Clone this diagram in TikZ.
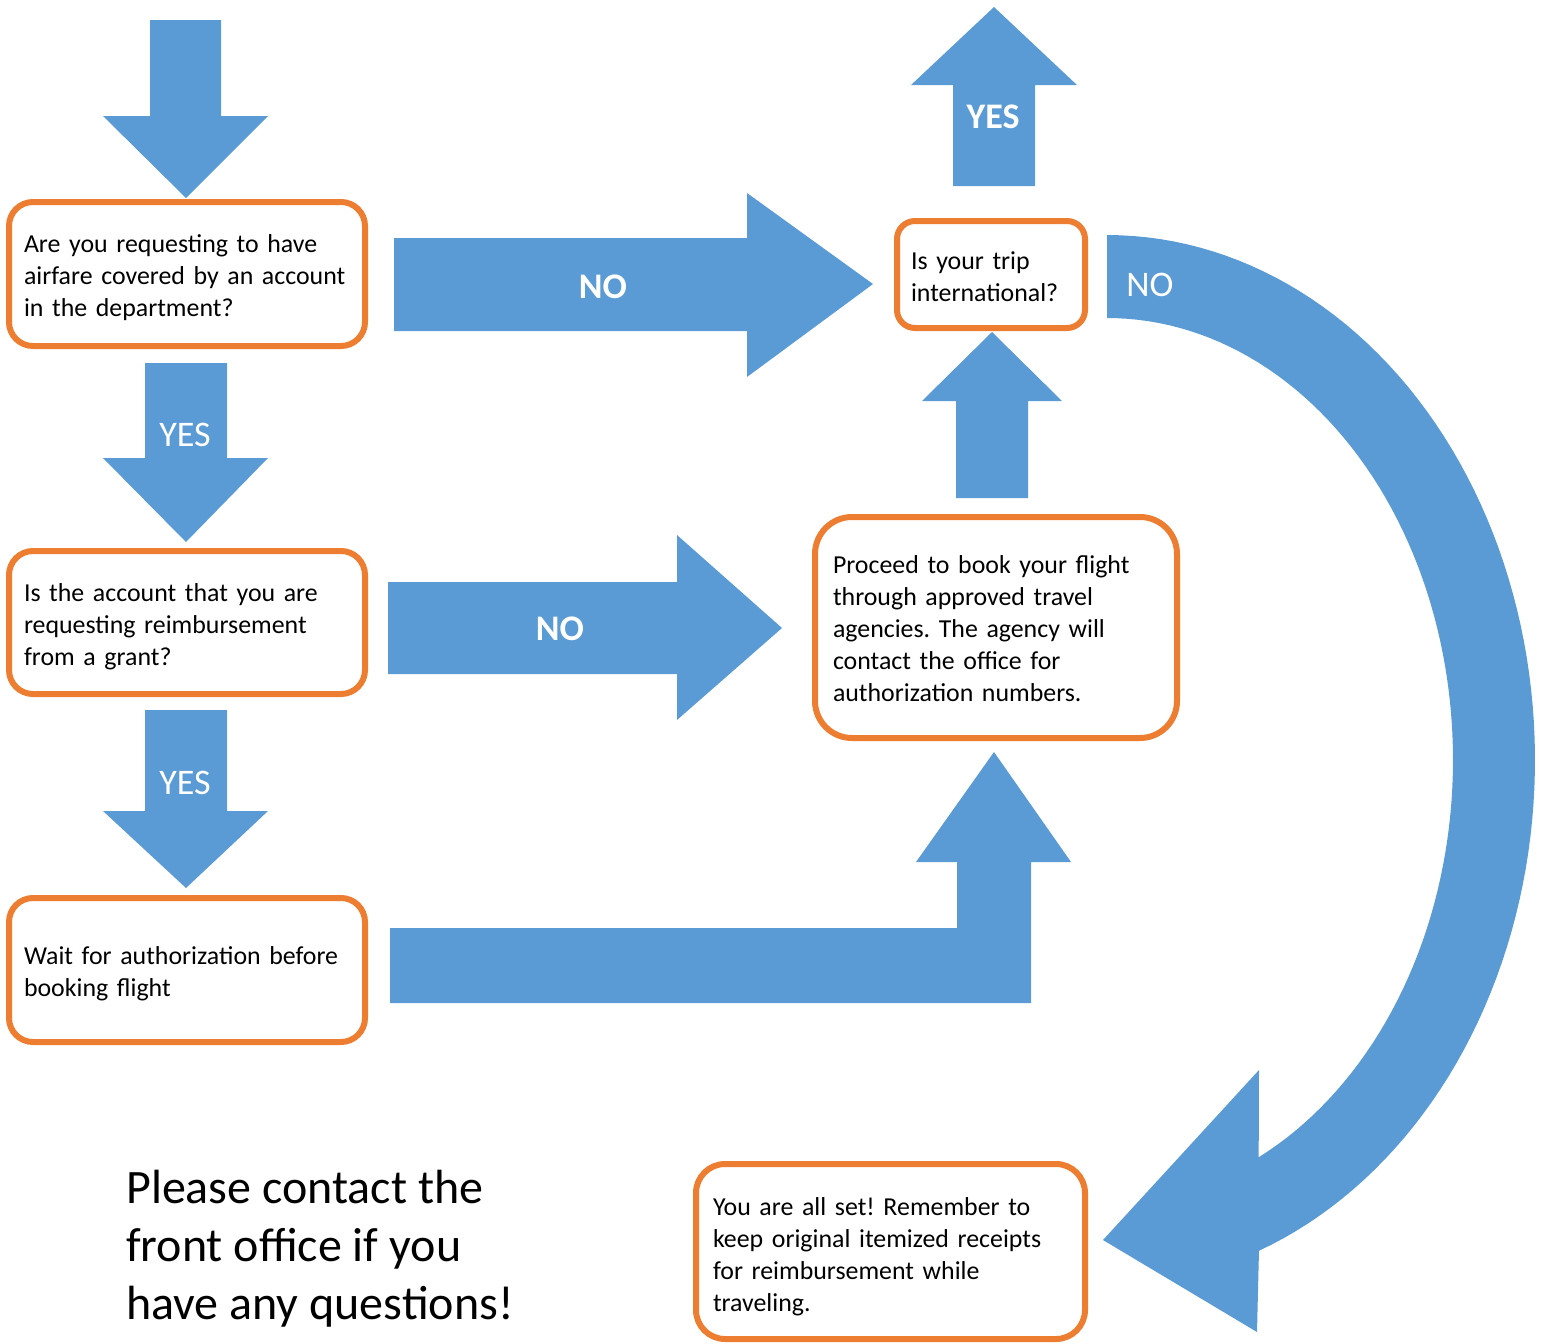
\documentclass[tikz,border=0pt]{standalone}
\usepackage{fontspec}
\setmainfont{Carlito}
\frenchspacing
\definecolor{arrowblue}{HTML}{5B9BD5}
\definecolor{boxorange}{HTML}{ED7D31}
\newcommand\boxline[1]{\mbox{#1}}
\newcommand\lowerby[1]{\par\vspace{-#1}}
\begin{document}
\begin{tikzpicture}[x=0.75pt,y=-0.75pt,
  flow/.style={fill=arrowblue, draw=none},
  box/.style={draw=boxorange, line width=4.5pt, fill=white, align=left, inner ysep=0pt,
    font=\fontsize{19.4}{24}\selectfont, text=black},
  lab/.style={text=white, font=\fontsize{27}{32}\selectfont, inner sep=0pt},
  labb/.style={text=white, font=\fontsize{27}{32}\selectfont\bfseries, inner sep=0pt},
]
\useasboundingbox (0,0) rectangle (1543,1343);

% boxes
\node[box, minimum width=267pt, minimum height=108pt, text width=244.5pt, inner xsep=11.25pt, rounded corners=18pt]
  (q1) at (187,274) {\boxline{Are you requesting to have}\\\boxline{airfare covered by an account}\\\boxline{in the department?}\lowerby{5pt}};
\node[box, minimum width=267pt, minimum height=107.25pt, text width=244.5pt, inner xsep=11.25pt, rounded corners=18pt]
  (q2) at (187,622.5) {\boxline{Is the account that you are}\\\boxline{requesting reimbursement}\\\boxline{from a grant?}\lowerby{6pt}};
\node[box, minimum width=267pt, minimum height=108pt, text width=244.5pt, inner xsep=11.25pt, rounded corners=18pt]
  (wait) at (187,970) {\boxline{Wait for authorization before}\\\boxline{booking flight}\lowerby{6pt}};
\node[box, minimum width=141pt, minimum height=80.25pt, text width=120pt, inner xsep=10.5pt, rounded corners=13.5pt]
  (intl) at (991,274.5) {\boxline{Is your trip}\\\boxline{international?}\lowerby{3pt}};
\node[box, minimum width=271.5pt, minimum height=165.75pt, text width=244.5pt, inner xsep=13.5pt, rounded corners=27.75pt]
  (book) at (996,627.5) {\boxline{Proceed to book your flight}\\\boxline{through approved travel}\\\boxline{agencies. The agency will}\\\boxline{contact the office for}\\\boxline{authorization numbers.}\lowerby{1.5pt}};
\node[box, minimum width=291.75pt, minimum height=131.25pt, text width=266.25pt, inner xsep=12.75pt, rounded corners=21.75pt]
  (set) at (890.5,1251.5) {\boxline{You are all set! Remember to}\\\boxline{keep original itemized receipts}\\\boxline{for reimbursement while}\\\boxline{traveling.}\lowerby{7.5pt}};

\node[anchor=west, align=left, inner sep=0pt, font=\fontsize{36}{43.5}\selectfont] (note) at (126,1249)
  {Please contact the\\front office if you\\have any questions!};

% start arrow
\fill[flow] (150,20) -- (221,20) -- (221,116) -- (268,116) -- (186,198) -- (103,116) -- (150,116) -- cycle;
% YES down 1
\fill[flow] (145,363) -- (227,363) -- (227,458) -- (268,458) -- (186,542) -- (103,458) -- (145,458) -- cycle;
\node[lab] (yes1) at (185,435) {YES};
% YES down 2
\fill[flow] (145,710) -- (227,710) -- (227,811) -- (268,811) -- (186,888) -- (103,811) -- (145,811) -- cycle;
\node[lab] (yes2) at (185,783) {YES};
% NO right 1
\fill[flow] (394,238) -- (747,238) -- (747,193) -- (873,284) -- (747,377) -- (747,331) -- (394,331) -- cycle;
\node[labb] (no1) at (603,287) {NO};
% NO right 2
\fill[flow] (388,582) -- (677,582) -- (677,535) -- (782,628) -- (677,720) -- (677,674) -- (388,674) -- cycle;
\node[labb] (no2) at (560,629) {NO};
% YES up from intl
\fill[flow] (953,186) -- (953,85) -- (911,85) -- (994,7) -- (1077,85) -- (1035,85) -- (1035,186) -- cycle;
\node[labb] (yes3) at (993,117) {YES};
% up arrow book -> intl
\fill[flow] (956,498) -- (956,401) -- (922,401) -- (992,332) -- (1062,401) -- (1028,401) -- (1028,498) -- cycle;
% bent arrow wait -> book
\fill[flow] (390,928) -- (957,928) -- (957,862) -- (916,862) -- (994,752) -- (1071,862) -- (1031,862) -- (1031,1003) -- (390,1003) -- cycle;
% curved arrow intl -> set
\fill[flow] plot[domain=-90:69.2, samples=90] ({1107+428*cos(\x)},{760+525*sin(\x)})
  -- (1257,1332) -- (1103,1240) -- (1259,1070)
  -- plot[domain=64:-90, samples=90] ({1107+346*cos(\x)},{760+442*sin(\x)}) -- cycle;
\node[lab] (no3) at (1150,285) {NO};
\end{tikzpicture}
\end{document}
